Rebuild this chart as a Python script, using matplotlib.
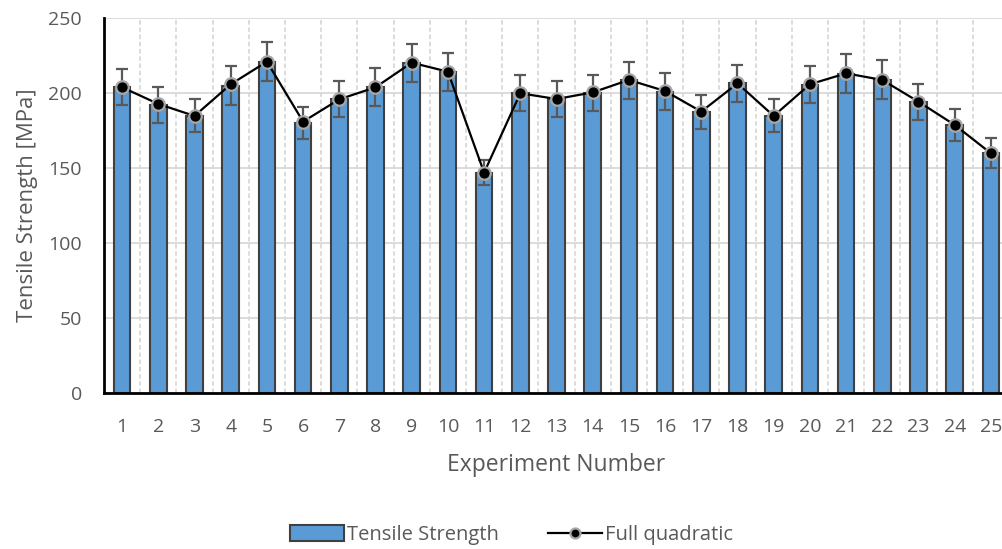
import matplotlib
matplotlib.use("Agg")
import matplotlib.pyplot as plt
import numpy as np

plt.rcParams['font.family'] = ['Open Sans', 'DejaVu Sans']

# Experiment numbers and measured / predicted tensile strength (MPa)
experiments = list(range(1, 26))
tensile_strength = [204, 192, 185, 205, 221, 180, 196, 204, 220, 214, 147, 200, 196,
                    200, 208.5, 201, 187.5, 206.5, 185, 205.5, 213, 209, 194, 178.5, 160]
strength_error = [12.2, 11.8, 11.2, 12.8, 13, 10.5, 11.7, 12.5, 12.8, 12.6, 8.5, 11.9, 12.2,
                  12, 12.5, 12.2, 11.3, 12.3, 11.2, 12.4, 12.9, 12.8, 12, 10.8, 10]
full_quadratic = [203.8, 192.7, 184.7, 205.8, 220.9, 180.9, 195.8, 203.8, 220.2, 214.2, 146.9,
                  199.8, 196, 200.4, 208.7, 201.3, 187.6, 206.4, 184.7, 205.8, 213.1, 208.7,
                  194.2, 178.7, 159.8]
y_ticks = [0, 50, 100, 150, 200, 250]

text_color = '#595959'
grid_color = '#D9D9D9'

fig = plt.figure(figsize=(10.03, 5.49), dpi=100)
ax = fig.add_axes([104 / 1003, 156 / 549, 905 / 1003, 375 / 549])

bars = ax.bar(experiments, tensile_strength, width=0.46, color='#5B9BD5',
              edgecolor='#404040', linewidth=1.5, zorder=2, label='Tensile Strength')
ax.errorbar(experiments, tensile_strength, yerr=strength_error, fmt='none',
            ecolor='#595959', elinewidth=1.6, capsize=4, capthick=1.6, zorder=3)
line, = ax.plot(experiments, full_quadratic, color='black', linewidth=1.6, marker='o',
                markersize=9, markerfacecolor='black', markeredgecolor='#A6A6A6',
                markeredgewidth=1.6, zorder=4, label='Full quadratic')

ax.set_xlim(0.5, 25.5)
ax.set_ylim(0, 250)
ax.set_xticks(experiments)
ax.set_xticks(np.arange(1.5, 25.5, 1), minor=True)
ax.set_yticks(y_ticks)

ax.grid(axis='y', which='major', color=grid_color, linewidth=1.3, zorder=0)
ax.grid(axis='x', which='minor', color=grid_color, linewidth=1.3, linestyle=(0, (2.5, 1.5)), zorder=0)
ax.set_axisbelow(True)

ax.tick_params(axis='both', which='both', length=0, labelsize=14, labelcolor=text_color)
ax.tick_params(axis='y', pad=16)
ax.tick_params(axis='x', pad=18)

for side in ('top', 'right'):
    ax.spines[side].set_visible(False)
for side in ('left', 'bottom'):
    ax.spines[side].set_color('black')
    ax.spines[side].set_linewidth(2)

ax.set_ylabel('Tensile Strength [MPa]', fontsize=16, color=text_color, labelpad=7)
ax.set_xlabel('Experiment Number', fontsize=16.5, color=text_color, labelpad=12)

fig.legend([bars, line], ['Tensile Strength', 'Full quadratic'], loc='center',
           bbox_to_anchor=(0.51, 14 / 549), ncol=2, frameon=False, fontsize=14.5,
           labelcolor=text_color, handlelength=2.7, handleheight=0.8,
           handletextpad=0.15, columnspacing=2.4, markerscale=0.8)

fig.savefig('out.png', dpi=100)
